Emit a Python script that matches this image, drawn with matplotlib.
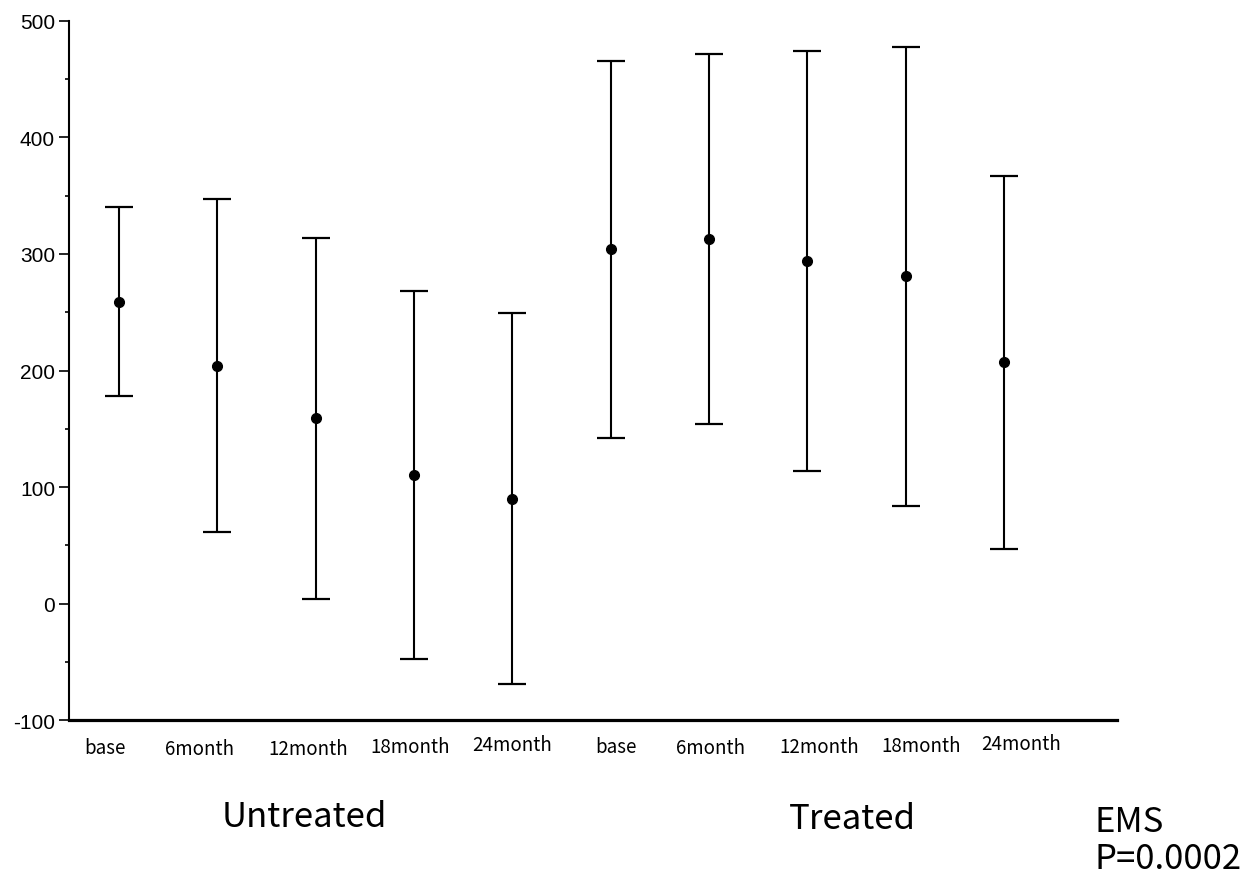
import numpy as np
import matplotlib
matplotlib.use("Agg")
import matplotlib.pyplot as plt
from matplotlib.ticker import MultipleLocator

plt.rcParams["axes.unicode_minus"] = False

# values (mean and half-width of error bar)
time_labels = ["base", "6month", "12month", "18month", "24month"]
groups = ["Untreated", "Treated"]

untreated_mean = [259, 204, 159, 110, 90]
untreated_err = [81, 143, 155, 158, 159]
treated_mean = [304, 313, 294, 281, 207]
treated_err = [162, 159, 180, 197, 160]

stat_text = "EMS\nP=0.0002"

jp_font = ["Noto Sans CJK JP", "DejaVu Sans"]

fig = plt.figure(figsize=(12.56, 8.79), dpi=100)
ax = fig.add_axes([0.0549, 0.1797, 0.8344, 0.7953])

means = untreated_mean + treated_mean
errs = untreated_err + treated_err
x = np.arange(1, len(means) + 1)

ax.errorbar(x, means, yerr=errs, fmt="o", color="black", ms=7,
            elinewidth=1.5, capsize=10, capthick=1.6)

ax.set_xlim(0.491, 11.15)
ax.set_ylim(-100, 500)
ax.yaxis.set_major_locator(MultipleLocator(100))
ax.yaxis.set_minor_locator(MultipleLocator(50))
ax.tick_params(axis="y", which="major", length=7, width=1.2, labelsize=15,
               direction="out", pad=3)
ax.tick_params(axis="y", which="minor", length=3, width=1.2, direction="out")
for lab in ax.get_yticklabels():
    lab.set_family("Liberation Sans")

ax.set_xticks([])
ax.spines["top"].set_visible(False)
ax.spines["right"].set_visible(False)
ax.spines["left"].set_linewidth(1.5)
ax.spines["bottom"].set_linewidth(2.3)

# category labels sit a little off the points, as in the original
label_dx = [-14, -18, -7, -4, 0, 5, 2, 12, 16, 17]
label_dy = [0, -1, -1, 1, 3, 1, 0, 1, 2, 4]
all_labels = time_labels + time_labels
for xi, lab, dx, dy in zip(x, all_labels, label_dx, label_dy):
    ax.annotate(lab, xy=(xi, 0), xycoords=("data", "axes fraction"),
                xytext=(dx * 0.72, -24 + dy * 0.72), textcoords="offset points",
                ha="center", va="baseline", fontsize=13.5, family=jp_font)

fig.text(304 / 1256, 1 - 818 / 879, groups[0], ha="center", va="center",
         fontsize=25, family=jp_font)
fig.text(852 / 1256, 1 - 820 / 879, groups[1], ha="center", va="center",
         fontsize=25, family=jp_font)
fig.text(1095 / 1256, 1 - 841 / 879, stat_text, ha="left", va="center",
         fontsize=25, family=jp_font, linespacing=1.05)

fig.savefig("out.png", dpi=100)
